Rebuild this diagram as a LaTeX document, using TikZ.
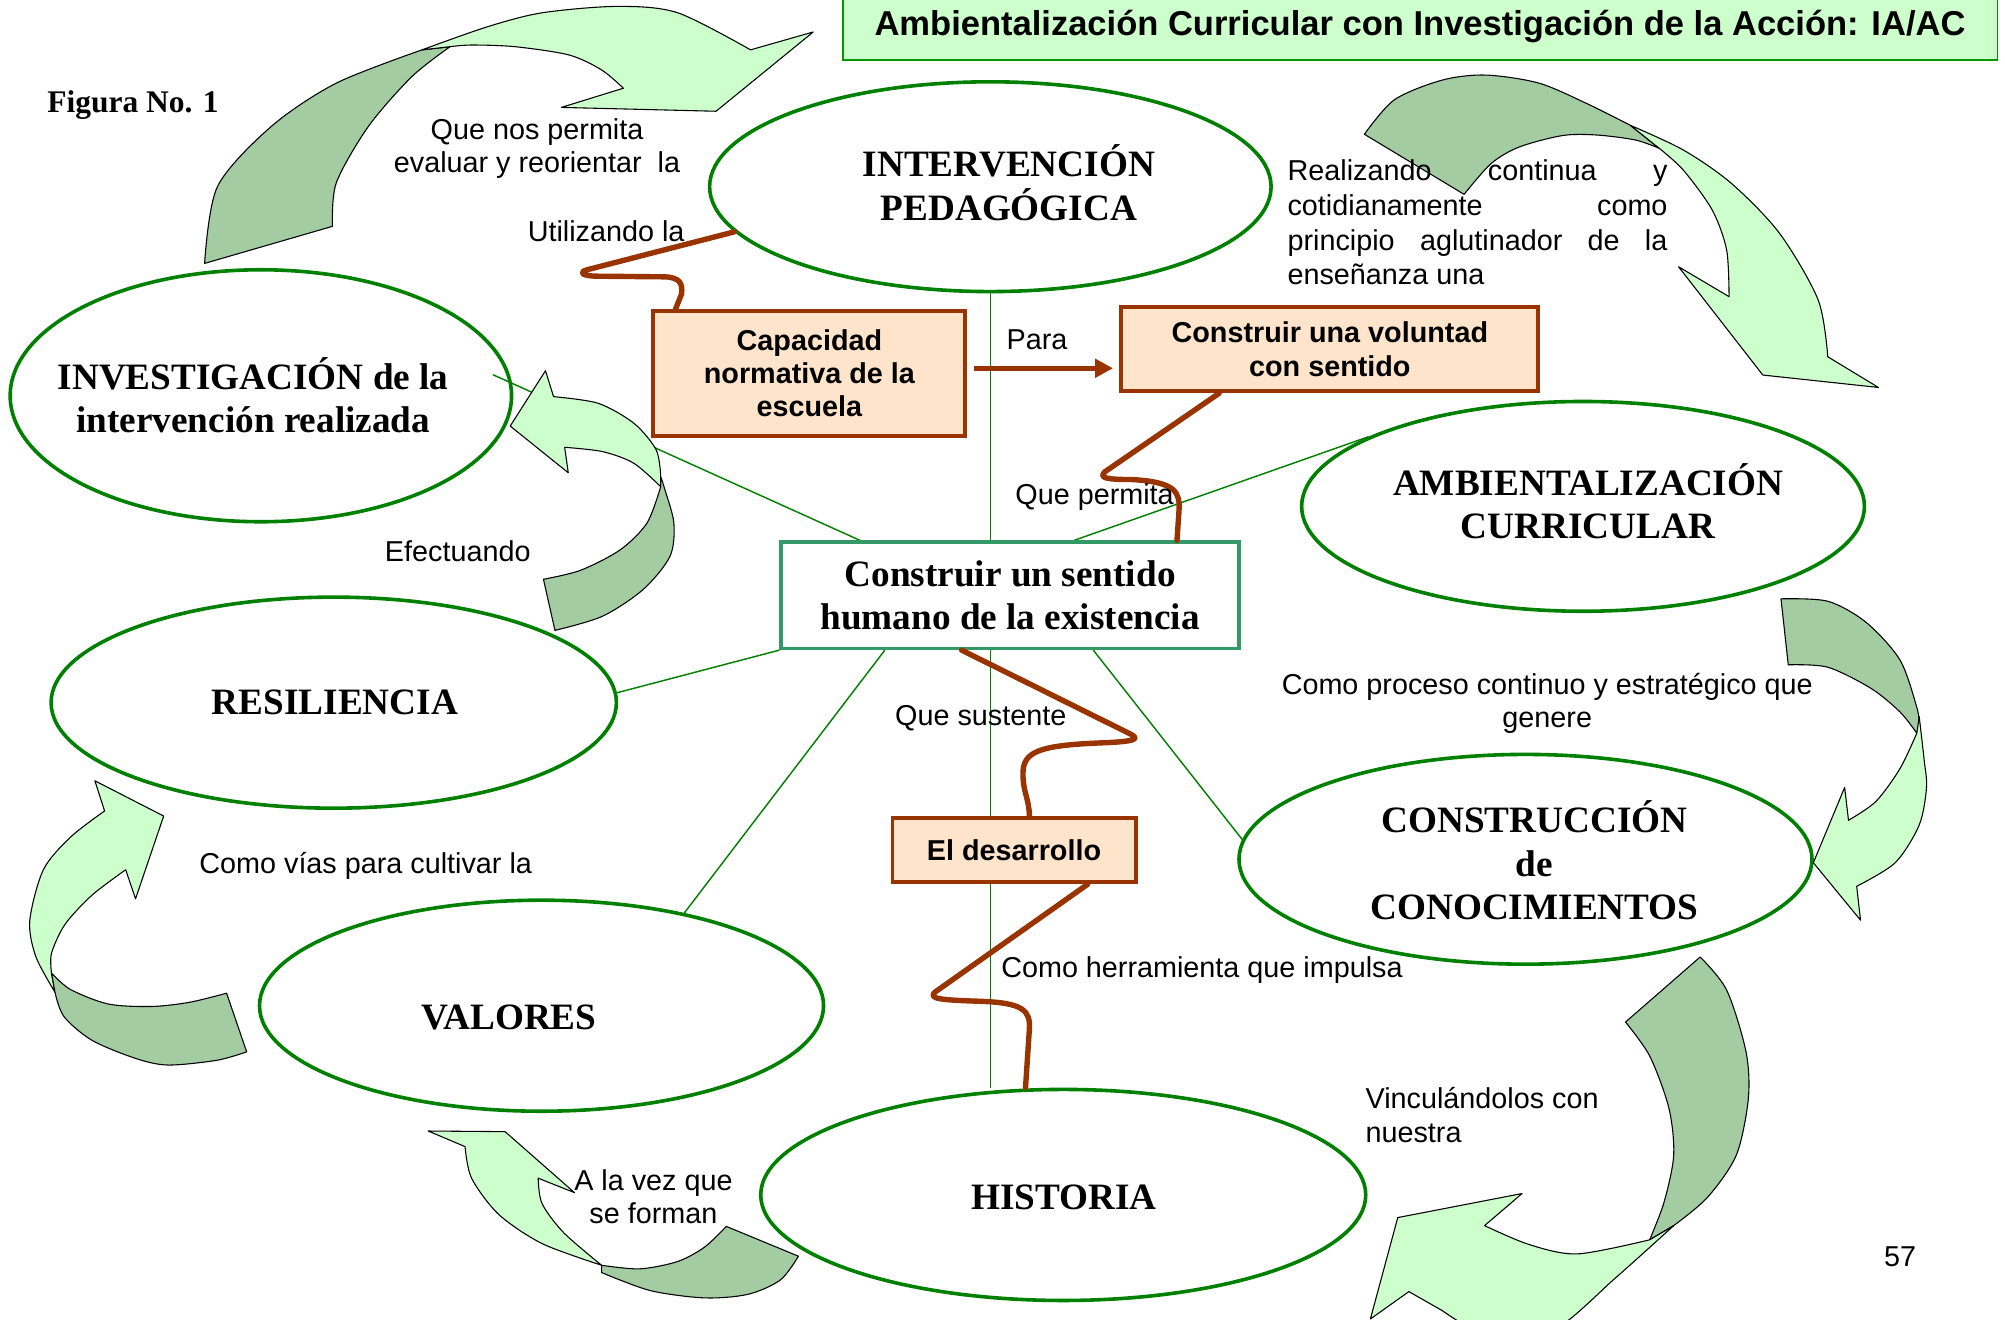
\documentclass[tikz,border=0pt]{standalone}
\usepackage{fontspec}
\setmainfont{Liberation Serif}
\setsansfont{Liberation Sans}
\usetikzlibrary{shapes.geometric,arrows.meta}

\definecolor{elgreen}{RGB}{0,128,0}
\definecolor{titlefill}{RGB}{204,255,204}
\definecolor{titleline}{RGB}{0,153,0}
\definecolor{arrlight}{RGB}{204,255,204}
\definecolor{arrdark}{RGB}{163,204,163}
\definecolor{boxfill}{RGB}{255,228,204}
\definecolor{boxbrown}{RGB}{153,51,0}
\definecolor{cenline}{RGB}{51,153,102}

\pgfdeclarelayer{fondo}
\pgfsetlayers{fondo,main}

\tikzset{
  elipse/.style={ellipse, draw=elgreen, line width=2pt, inner sep=0pt},
  bigtxt/.style={font=\bfseries\fontsize{20.7}{24.2}\selectfont, align=center},
  lbl/.style={font=\sffamily\fontsize{16}{18.5}\selectfont, align=center},
  caja/.style={draw=boxbrown, fill=boxfill, line width=2.2pt, inner sep=0pt,
    font=\sffamily\bfseries\fontsize{16}{18.5}\selectfont, align=center},
  central/.style={draw=cenline, fill=white, line width=2pt, inner sep=0pt,
    minimum width=8.95cm, minimum height=2.075cm,
    font=\bfseries\fontsize{20.7}{24.2}\selectfont, align=center},
  titulo/.style={draw=titleline, fill=titlefill, line width=1.1pt,
    minimum width=22.575cm, minimum height=1.3cm,
    font=\sffamily\bfseries\fontsize{19.2}{23}\selectfont},
  enlace/.style={draw=elgreen, line width=0.8pt},
  hilo/.style={draw=boxbrown, line width=3pt, line cap=round, line join=round},
  oscuro/.style={fill=arrdark, draw=black, line width=0.6pt, line join=round},
  claro/.style={fill=arrlight, draw=black, line width=0.6pt, line join=round},
}
\newcommand{\linea}[1]{\makebox[7.425cm][s]{#1}}

\begin{document}
\begin{tikzpicture}[x=0.025cm,y=-0.025cm]
  \useasboundingbox (0,0) rectangle (1568,1032);
  \clip (0,0) rectangle (1568,1032);

  % Titulo
  \node[titulo] (title) at (1110.5,21) {Ambientalización Curricular con Investigación de la Acción: IA/AC};
  \node[font=\bfseries\fontsize{17.5}{20}\selectfont] (fig) at (104,82) {Figura No. 1};

  % Elipses
  \node[elipse, minimum width=10.975cm, minimum height=4.1cm] (iped) at (774.5,146) {};
  \node[elipse, minimum width=9.8cm, minimum height=4.925cm] (inv) at (204,309.5) {};
  \node[elipse, minimum width=11cm, minimum height=4.1cm] (amb) at (1238,396) {};
  \node[elipse, minimum width=11.05cm, minimum height=4.125cm] (res) at (261,549.5) {};
  \node[elipse, minimum width=11.2cm, minimum height=4.1cm] (cons) at (1193,672) {};
  \node[elipse, minimum width=11.025cm, minimum height=4.125cm] (val) at (423.5,786.5) {};
  \node[elipse, minimum width=11.825cm, minimum height=4.125cm] (hist) at (831.5,934.5) {};

  \node[bigtxt] (iped-t) at (789,143) {INTERVENCIÓN\\PEDAGÓGICA};
  \node[bigtxt] (inv-t) at (198,309) {INVESTIGACIÓN de la\\intervención realizada};
  \node[bigtxt] (amb-t) at (1242,392) {AMBIENTALIZACIÓN\\CURRICULAR};
  \node[bigtxt] (res-t) at (262,549) {RESILIENCIA};
  \node[bigtxt] (cons-t) at (1200,673) {CONSTRUCCIÓN\\de\\CONOCIMIENTOS};
  \node[bigtxt] (val-t) at (398,796) {VALORES};
  \node[bigtxt] (hist-t) at (832,936) {HISTORIA};

  % Cajas
  \node[caja, minimum width=6.1cm, minimum height=2.45cm] (cap) at (633,292) {Capacidad\\normativa de la\\escuela};
  \node[caja, minimum width=8.15cm, minimum height=1.65cm] (volu) at (1040,273) {Construir una voluntad\\con sentido};
  \node[caja, minimum width=4.75cm, minimum height=1.25cm] (desa) at (793,665) {El desarrollo};
  \node[central] (cen) at (790,465.5) {Construir un sentido\\humano de la existencia};

  % Lineas verdes
  \begin{pgfonlayer}{fondo}
    \fill[white] (0,0) rectangle (1568,1032);
    \draw[enlace] (iped.south) -- (iped.south |- hist.north);
    \draw[enlace] ([shift={(-16,-16.5)}]inv.east) -- ([shift={(63,0)}]cen.north west);
    \draw[enlace] ([shift={(50,0)}]cen.north) -- (amb.162);
    \draw[enlace] (cen.south west) -- (res.2);
    \draw[enlace] ([shift={(-98,0)}]cen.south) -- (val.33);
    \draw[enlace] ([shift={(65,0)}]cen.south) -- (cons.176);
  \end{pgfonlayer}

  % Conectores cafes
  \draw[hilo] (iped.190) -- (459,211) .. controls (452,213) and (455,216) .. (468,216)
    -- (520,216.5) .. controls (532,217) and (534,222) .. (533,230) -- ([shift={(19,0)}]cap.north west);
  \coordinate (pa) at ([shift={(5,-4)}]cap.east);
  \draw[hilo, line cap=butt, shorten >=3.5pt, -{Triangle[length=10pt,width=10pt]}] (pa) -- (pa -| volu.west);
  \draw[hilo] ([shift={(78,0)}]volu.south west) -- (864,369) .. controls (859,374) and (866,375) .. (885,375)
    .. controls (920,377) and (923,385) .. (922,400) -- ([shift={(-50,0)}]cen.north east);
  \draw[hilo] ([shift={(-38,0)}]cen.south) -- (884,574) .. controls (892,578) and (888,580) .. (860,581)
    .. controls (812,583) and (800,588) .. (800,605) .. controls (800,620) and (805,625) .. ([shift={(12,0)}]desa.north);
  \draw[hilo] ([shift={(-39,0)}]desa.south east) -- (731,776) .. controls (726,781) and (735,782) .. (765,783)
    .. controls (800,784) and (806,790) .. (805,805) -- ([shift={(-29.5,0)}]hist.north);

  % Flecha curva arriba izquierda
  \filldraw[oscuro] plot[smooth] coordinates {(160,206) (170,146) (212,99) (263,65) (330,39)}
    -- plot[smooth] coordinates {(352,36.5) (322,60) (288,99) (263,143) (260,177)} -- cycle;
  \filldraw[claro] plot[smooth] coordinates {(330,39) (381,21) (424,10) (483,5) (530,10) (587,39)}
    -- (636,25) -- (560,87) -- (439,84)
    -- plot[smooth] coordinates {(487.5,69) (470.5,54.7) (445,43) (402.7,36.5) (368.8,35.2) (352,36.5)} -- cycle;

  % Flecha curva arriba derecha
  \filldraw[oscuro] plot[smooth] coordinates {(1067,105) (1090.5,78) (1128,62.6) (1162,58.7) (1203.5,65) (1241,81) (1275,98)}
    -- plot[smooth] coordinates {(1297.6,116) (1279,109.5) (1249,105.6) (1222,106) (1188,115) (1166,128) (1145,152)} -- cycle;
  \filldraw[claro] plot[smooth] coordinates {(1275,98) (1316.4,117.3) (1354,143.4) (1391.7,182.5) (1421.9,234.6) (1429.4,279)}
    -- (1469,303) -- (1378.6,293.3) -- (1312.7,208.6)
    -- plot[smooth] coordinates {(1352.2,232) (1350.3,195.5) (1339,164.2) (1316.4,133) (1297.6,116)} -- cycle;

  % Flecha curva izquierda (Efectuando)
  \filldraw[oscuro] plot[smooth] coordinates {(434,493) (471,482) (503,461) (524,435) (527,409) (520,383) (516.7,372.8)}
    -- plot[smooth] coordinates {(516.7,380.6) (506,409) (485,430) (454,446) (425,453)} -- cycle;
  \filldraw[claro] plot[smooth] coordinates {(516.7,372.8) (513.2,351.9) (495.7,331) (467.8,315.4) (432.9,310.2)}
    -- (426.6,289.9) -- (399,333.2) -- (444.4,369.7)
    -- plot[smooth] coordinates {(441.6,349.8) (471.3,353.2) (495.7,362.3) (516.7,380.6)} -- cycle;

  % Flecha curva extremo izquierdo
  \filldraw[claro] plot[smooth] coordinates {(43,776) (28,748) (23.3,719.9) (33.9,680.2) (55.1,654.7) (81.8,634.2)}
    -- (74.2,610.6) -- (128,638.2) -- (106,702.9)
    -- plot[smooth] coordinates {(98.3,680.2) (72,700) (50.9,722.8) (40.3,745.4) (40.3,761)} -- cycle;
  \filldraw[oscuro] plot[smooth] coordinates {(43,776) (50,795) (72,813.6) (106,827.7) (131.4,832.9) (169.5,829.2) (192.9,822.6)}
    -- plot[smooth] coordinates {(177.2,776.7) (148.4,783.8) (118.7,787.1) (84.8,785.2) (55.1,773.8) (40.3,761)} -- cycle;

  % Flecha curva abajo izquierda
  \filldraw[claro] plot[smooth] coordinates {(470.5,989.5) (423.9,972.5) (390,949.7) (368.8,921.4) (363.7,896.7)}
    -- (334.9,884.5) -- (395,885) -- (449.3,932.7)
    -- plot[smooth] coordinates {(420.9,921.4) (423.9,941.2) (440.8,964) (470.5,989.5)} -- cycle;
  \filldraw[oscuro] plot[smooth] coordinates {(470.5,989.5) (500.2,992.3) (529.8,986.6) (551,975.3) (568,959.1)}
    -- plot[smooth] coordinates {(624.4,982.4) (610.4,1000.9) (585,1012.2) (551,1015) (508.6,1009.3) (470.5,995.2)} -- cycle;

  % Flecha curva derecha
  \filldraw[oscuro] plot[smooth] coordinates {(1392.8,468.3) (1429.4,470.2) (1459.5,486.8) (1485.9,516.2) (1499,553.1) (1500.9,566)}
    -- plot[smooth] coordinates {(1499,573.4) (1485.9,556.8) (1463.3,538.4) (1429.4,521.8) (1398.5,519.9)} -- cycle;
  \filldraw[claro] plot[smooth] coordinates {(1500.9,560.5) (1504.7,593.7) (1506.6,615.8) (1500.9,645.2) (1482.1,674.7) (1452,693.1)}
    -- (1455,719.6) -- (1418.1,674.7) -- (1442.6,615.8)
    -- plot[smooth] coordinates {(1445.6,641.5) (1467,626.8) (1485.9,601) (1499,573.4)} -- cycle;

  % Flecha curva abajo derecha
  \filldraw[oscuro] plot[smooth] coordinates {(1271.2,799.3) (1290.1,825.8) (1305.1,866.4) (1308.9,903.3) (1301.4,940) (1290.1,969.6)}
    -- plot[smooth] coordinates {(1308.9,958.5) (1335.3,936.4) (1357.9,903.3) (1367.3,859) (1365.4,822.2) (1350.3,774.2) (1329.6,748.4)} -- cycle;
  \filldraw[claro] plot[smooth] coordinates {(1290.1,969.6) (1233.6,980.6) (1195.9,973.3) (1161,958.5)}
    -- (1190.3,933.4) -- (1093.1,952.2) -- (1071.7,1031.5) -- (1101.8,1010.1)
    -- plot[smooth] coordinates {(1128,1025) (1165,1045) (1215,1040) (1263.7,999.1) (1308.9,958.5)} -- cycle;

  % Etiquetas
  \node[lbl] (l-eval) at (420,116) {Que nos permita\\evaluar y reorientar\ \ la};
  \node[lbl] (l-util) at (474,181) {Utilizando la};
  \node[lbl, align=left, font=\sffamily\fontsize{16}{19.2}\selectfont] (l-real) at (1155.5,174)
    {\linea{Realizando continua y}\\\linea{cotidianamente como}\\\linea{principio aglutinador de la}\\enseñanza una};
  \node[lbl] (l-para) at (811,266) {Para};
  \node[lbl] (l-perm) at (856,389) {Que permita};
  \node[lbl] (l-efec) at (358,431) {Efectuando};
  \node[lbl] (l-proc) at (1210,550) {Como proceso continuo y estratégico que\\genere};
  \node[lbl] (l-sust) at (767,562) {Que sustente};
  \node[lbl] (l-vias) at (286,677) {Como vías para cultivar la};
  \node[lbl] (l-herr) at (940,759) {Como herramienta que impulsa};
  \node[lbl, align=left, anchor=west] (l-vinc) at (1063,872) {Vinculándolos con\\nuestra};
  \node[lbl] (l-vez) at (511,936) {A la vez que\\se forman};
  \node[lbl] (pag) at (1486,983) {57};
\end{tikzpicture}
\end{document}
